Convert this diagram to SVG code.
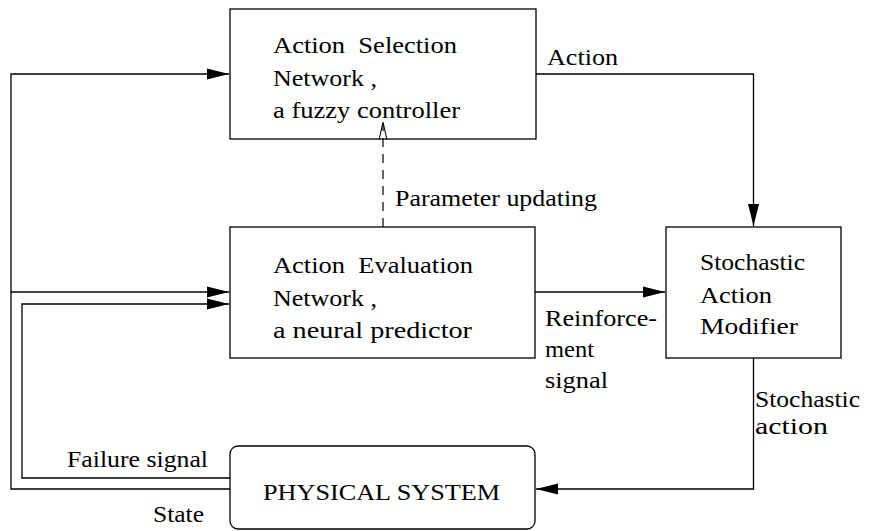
<svg xmlns="http://www.w3.org/2000/svg" width="875" height="531" viewBox="0 0 875 531">
<defs>
  <marker id="arr" markerWidth="22" markerHeight="12" refX="22" refY="6" orient="auto" markerUnits="userSpaceOnUse">
    <path d="M0,0.5 L22,6 L0,11.5 Z" fill="#000"/>
  </marker>
</defs>
<rect width="875" height="531" fill="#fff"/>

<g id="action-selection" font-family="Liberation Serif" font-size="24">
  <rect x="230" y="9" width="306" height="130" fill="#fff" stroke="#000" stroke-width="1.3"/>
  <text x="273" y="53" textLength="184" lengthAdjust="spacingAndGlyphs" xml:space="preserve">Action  Selection</text>
  <text x="273" y="86" textLength="104" lengthAdjust="spacingAndGlyphs">Network ,</text>
  <text x="273" y="118" textLength="187" lengthAdjust="spacingAndGlyphs">a fuzzy controller</text>
</g>

<g id="action-evaluation" font-family="Liberation Serif" font-size="24">
  <rect x="230" y="227" width="305" height="131" fill="#fff" stroke="#000" stroke-width="1.3"/>
  <text x="273" y="273" textLength="200" lengthAdjust="spacingAndGlyphs" xml:space="preserve">Action  Evaluation</text>
  <text x="273" y="306" textLength="104" lengthAdjust="spacingAndGlyphs">Network ,</text>
  <text x="273" y="338" textLength="199" lengthAdjust="spacingAndGlyphs">a neural predictor</text>
</g>

<g id="stochastic-modifier" font-family="Liberation Serif" font-size="24">
  <rect x="666" y="227" width="175" height="131" fill="#fff" stroke="#000" stroke-width="1.3"/>
  <text x="700" y="270" textLength="105" lengthAdjust="spacingAndGlyphs">Stochastic</text>
  <text x="700" y="303" textLength="72" lengthAdjust="spacingAndGlyphs">Action</text>
  <text x="700" y="334" textLength="98" lengthAdjust="spacingAndGlyphs">Modifier</text>
</g>

<g id="physical-system" font-family="Liberation Serif" font-size="24">
  <rect x="230" y="446" width="305" height="83" rx="8" ry="8" fill="#fff" stroke="#000" stroke-width="1.3"/>
  <text x="263" y="500" textLength="237" lengthAdjust="spacingAndGlyphs">PHYSICAL SYSTEM</text>
</g>

<g id="connectors" fill="none" stroke="#000" stroke-width="1.3">
  <path d="M230,489 L11,489 L11,74 L229,74" marker-end="url(#arr)"/>
  <path d="M11,292 L229,292" marker-end="url(#arr)"/>
  <path d="M230,478 L22,478 L22,304 L229,304" marker-end="url(#arr)"/>
  <path d="M536,74 L753.5,74 L753.5,226" marker-end="url(#arr)"/>
  <path d="M535,292 L665,292" marker-end="url(#arr)"/>
  <path d="M753.5,358 L753.5,489 L536,489" marker-end="url(#arr)"/>
  <path d="M383,227 L383,124" stroke-width="1.2" stroke-dasharray="9 7"/>
  <path d="M379,140 L383,122 L387,140" stroke-width="1.1"/>
</g>

<g id="labels" font-family="Liberation Serif" font-size="24">
  <text x="547" y="65" textLength="71" lengthAdjust="spacingAndGlyphs">Action</text>
  <text x="395" y="206" textLength="202" lengthAdjust="spacingAndGlyphs">Parameter updating</text>
  <text x="545" y="326" textLength="112" lengthAdjust="spacingAndGlyphs">Reinforce-</text>
  <text x="545" y="357" textLength="49" lengthAdjust="spacingAndGlyphs">ment</text>
  <text x="545" y="388" textLength="63" lengthAdjust="spacingAndGlyphs">signal</text>
  <text x="755" y="407" textLength="105" lengthAdjust="spacingAndGlyphs">Stochastic</text>
  <text x="755" y="434" textLength="73" lengthAdjust="spacingAndGlyphs">action</text>
  <text x="67" y="467" textLength="141" lengthAdjust="spacingAndGlyphs">Failure signal</text>
  <text x="153" y="522" textLength="51" lengthAdjust="spacingAndGlyphs">State</text>
</g>
</svg>
